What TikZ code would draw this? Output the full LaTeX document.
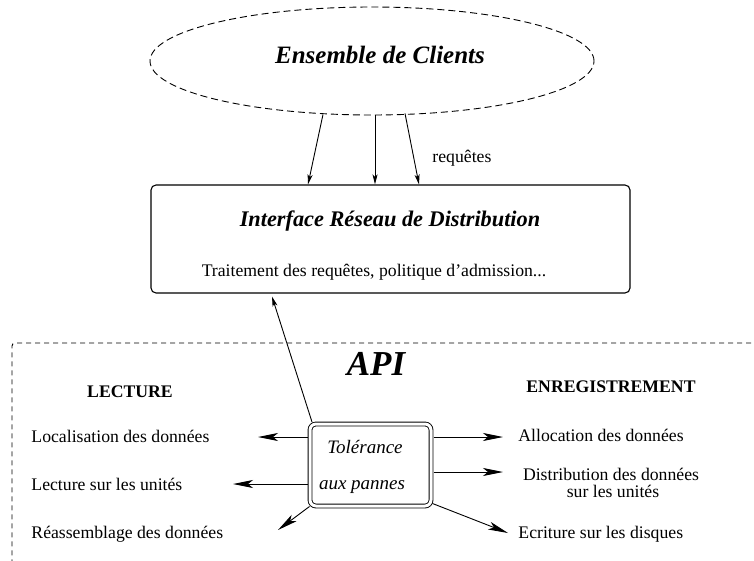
\documentclass[tikz,border=0pt]{standalone}
\usepackage{fontspec}
\setmainfont{Liberation Serif}
\usetikzlibrary{arrows.meta,calc,shapes.geometric}
\begin{document}
\begin{tikzpicture}[x=1pt,y=-1pt,
  line width=0.9pt,
  txt/.style={font=\fontsize{17.7}{21}\selectfont, inner sep=0pt},
  head/.style={font=\fontsize{17.7}{21}\selectfont\bfseries, inner sep=0pt, anchor=base},
  bigarrow/.style={-{Stealth[length=20pt,width=8pt,inset=5pt]}},
  smallarrow/.style={-{Stealth[length=10pt,width=5pt,inset=2.5pt]}},
]
\useasboundingbox (0,0) rectangle (754,561);

% clients (dashed ellipse)
\node[ellipse, draw, dash pattern=on 7pt off 4pt, minimum width=444pt,
      minimum height=108pt, inner sep=0pt] (clients) at (372,61) {};
\node[font=\fontsize{25}{30}\selectfont\bfseries\itshape, anchor=base, inner sep=0pt]
      (clientsT) at (380,64) {Ensemble de Clients};

% network interface box
\node[draw, rounded corners=5pt, minimum width=479pt, minimum height=108pt,
      line width=1.1pt] (iface) at (390.5,239) {};
\node[font=\fontsize{22.3}{27}\selectfont\bfseries\itshape, anchor=base, inner sep=0pt]
      (ifaceT) at (390,227) {Interface Réseau de Distribution};
\node[txt, anchor=base] (ifaceS) at (374,276) {Traitement des requêtes, politique d'admission...};

% requests
\node[txt, anchor=base west] (req) at (432,163) {requêtes};
\draw[smallarrow] ($(clients.south)+(-49,-1)$) -- ($(iface.north)+(-82.5,0)$);
\draw[smallarrow] ($(clients.south)+(3,0)$) -- ($(iface.north)+(-15.5,0)$);
\draw[smallarrow] ($(clients.south)+(33,-2)$) -- ($(iface.north)+(28.5,0)$);

% API region
\draw[dash pattern=on 5pt off 4pt, rounded corners=3pt] (760,343) -- (12,343) -- (12,570);
\node[font=\fontsize{35}{42}\selectfont\bfseries\itshape, anchor=base, inner sep=0pt]
      (api) at (376,375) {API};

\node[head] (lect) at (130,397) {LECTURE};
\node[head] (enreg) at (611,392) {ENREGISTREMENT};

% fault tolerance box
\node[draw, double, double distance=3pt, rounded corners=6pt, minimum width=121pt,
      minimum height=82pt, outer sep=2.5pt] (tol) at (370.5,465) {};
\node[font=\fontsize{19}{23}\selectfont\itshape, anchor=base, inner sep=0pt]
      (tolA) at (365,453) {Tolérance};
\node[font=\fontsize{19}{23}\selectfont\itshape, anchor=base, inner sep=0pt]
      (tolB) at (362,489) {aux pannes};

\draw[smallarrow] ($(tol.north west)+(4.5,0.5)$) -- ($(iface.south)+(-118.5,3)$);

% read side
\node[txt, anchor=base west] (loc) at (31,442) {Localisation des données};
\node[txt, anchor=base west] (lecu) at (31,490) {Lecture sur les unités};
\node[txt, anchor=base west] (reas) at (31,538) {Réassemblage des données};
\coordinate (tipL1) at (258,437);
\coordinate (tipL2) at (233,484);
\coordinate (tipL3) at (278,530);
\draw[bigarrow] (tol.west |- tipL1) -- (tipL1);
\draw[bigarrow] (tol.west |- tipL2) -- (tipL2);
\draw[bigarrow] ($(tol.south west)+(2,-2)$) -- (tipL3);

% write side
\node[txt, anchor=base west] (alloc) at (518,441) {Allocation des données};
\node[txt, anchor=base] (distA) at (611,480) {Distribution des données};
\node[txt, anchor=base] (distB) at (613,497) {sur les unités};
\node[txt, anchor=base west] (ecrit) at (518,538) {Ecriture sur les disques};
\coordinate (tipR1) at (503,437);
\coordinate (tipR2) at (503,472);
\coordinate (tipR3) at (508,533);
\draw[bigarrow] (tol.east |- tipR1) -- (tipR1);
\draw[bigarrow] (tol.east |- tipR2) -- (tipR2);
\draw[bigarrow] ($(tol.south east)+(-1,-5)$) -- (tipR3);
\end{tikzpicture}
\end{document}
